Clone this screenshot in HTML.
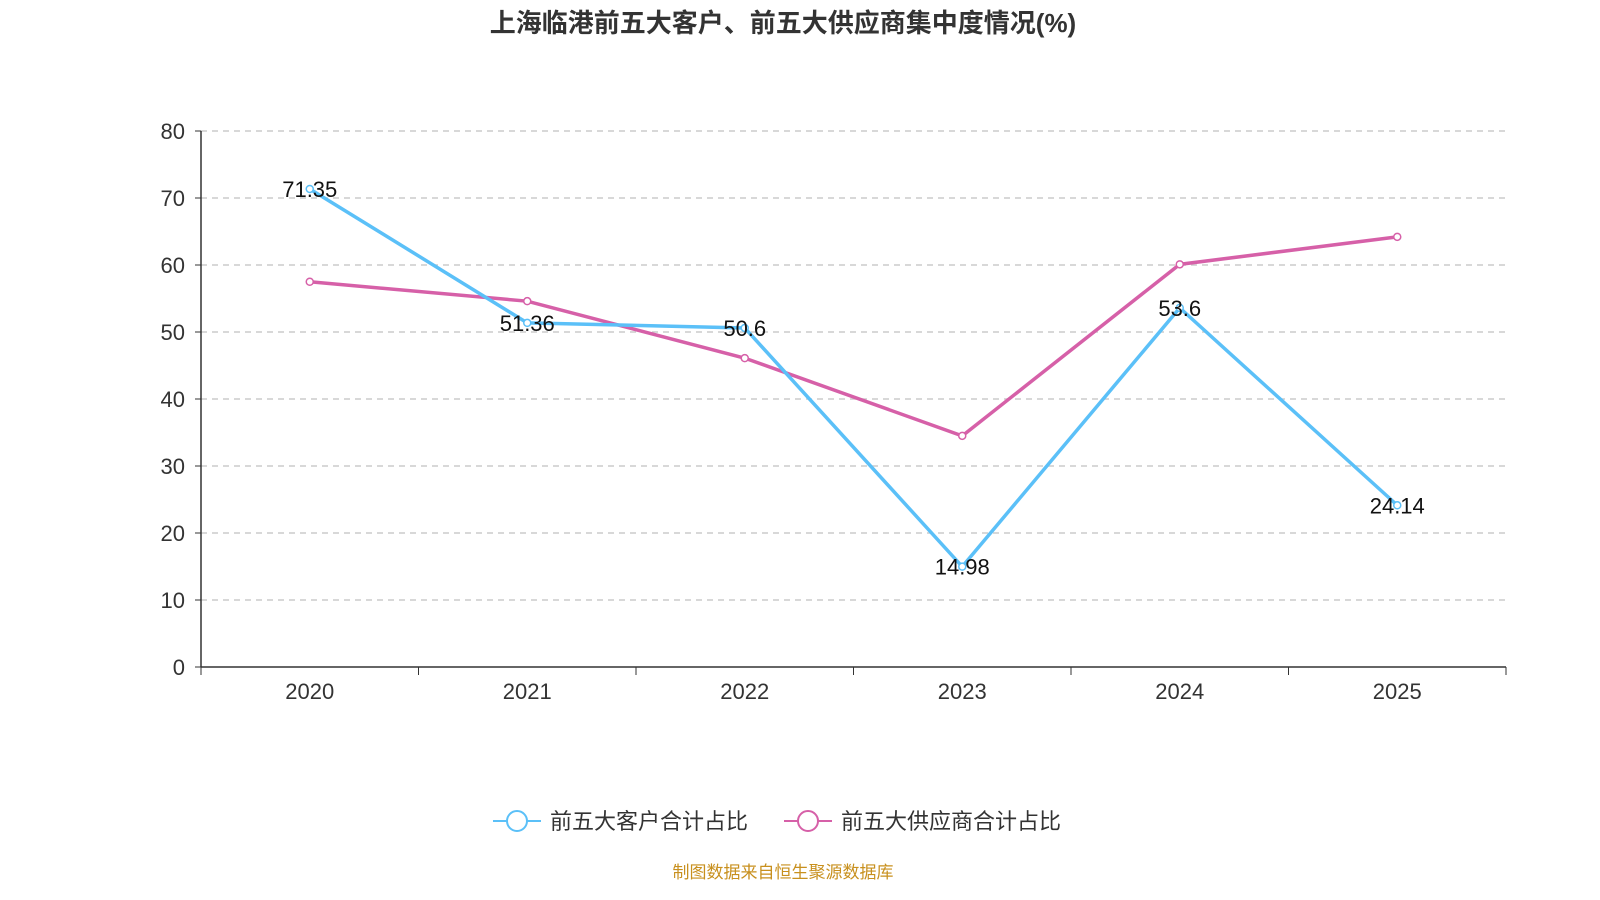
<!DOCTYPE html>
<html><head><meta charset="utf-8">
<style>
body{margin:0;background:#fff;}
svg{display:block;font-family:"Liberation Sans","Noto Sans CJK SC",sans-serif;}
</style></head>
<body>
<svg id="c" width="1600" height="900">
<text x="783" y="32" text-anchor="middle" font-size="26" font-weight="bold" fill="#333">上海临港前五大客户、前五大供应商集中度情况(%)</text>
<g id="grid"></g><g id="axes"></g><g id="series"></g>
<g>
<line x1="493" y1="821" x2="541" y2="821" stroke="#5bc0f8" stroke-width="2"/>
<circle cx="517" cy="821" r="10" fill="#fff" stroke="#5bc0f8" stroke-width="2"/>
<text x="550" y="829" font-size="22" fill="#333">前五大客户合计占比</text>
<line x1="784" y1="821" x2="832" y2="821" stroke="#d660a8" stroke-width="2"/>
<circle cx="808" cy="821" r="10" fill="#fff" stroke="#d660a8" stroke-width="2"/>
<text x="841" y="829" font-size="22" fill="#333">前五大供应商合计占比</text>
</g>
<text x="783" y="878" text-anchor="middle" font-size="17" fill="#c8901e">制图数据来自恒生聚源数据库</text>
</svg>
<script>
const categories=["2020","2021","2022","2023","2024","2025"];
const customers=[71.35,51.36,50.6,14.98,53.6,24.14];
const suppliers=[57.5,54.6,46.1,34.5,60.1,64.2];
const yTicks=[0,10,20,30,40,50,60,70,80];
const NS="http://www.w3.org/2000/svg";
const L=201,R=1506,T=131,B=667;
const y=v=>B-(v/80)*(B-T);
const bw=(R-L)/categories.length;
const x=i=>L+bw*(i+0.5);
function mk(p,t,a){const e=document.createElementNS(NS,t);for(const k in a)e.setAttribute(k,a[k]);p.appendChild(e);return e;}
const grid=document.getElementById('grid'),axes=document.getElementById('axes'),ser=document.getElementById('series');
yTicks.forEach(v=>{
 if(v>0){const g=mk(grid,'line',{x1:L,x2:R,y1:y(v),y2:y(v),stroke:'#ccc','stroke-dasharray':'6,5','stroke-width':1.5});
 
 }
 mk(axes,'line',{x1:L-6,x2:L,y1:y(v),y2:y(v),stroke:'#333'});
 const t=mk(axes,'text',{x:L-16,y:y(v)+8,'text-anchor':'end','font-size':22,fill:'#333'});t.textContent=v;
 
 
});
mk(axes,'line',{x1:L,x2:L,y1:T,y2:B,stroke:'#333','stroke-width':1.5});
mk(axes,'line',{x1:L,x2:R,y1:B,y2:B,stroke:'#333','stroke-width':1.5});
for(let i=0;i<=categories.length;i++)mk(axes,'line',{x1:L+bw*i,x2:L+bw*i,y1:B,y2:B+8,stroke:'#333'});
categories.forEach((c,i)=>{const t=mk(axes,'text',{x:x(i),y:B+32,'text-anchor':'middle','font-size':22,fill:'#333'});t.textContent=c;
 
 });
function series(vals,color,name,labels){
 const p=mk(ser,'polyline',{points:vals.map((v,i)=>x(i)+','+y(v)).join(' '),fill:'none',stroke:color,'stroke-width':3.5});
 
 
 vals.forEach((v,i)=>{const c=mk(ser,'circle',{cx:x(i),cy:y(v),r:3.5,fill:'#fff',stroke:color,'stroke-width':1.5});
  
  
  if(labels){const t=mk(ser,'text',{x:x(i),y:y(v)+8,'text-anchor':'middle','font-size':22,fill:'#111'});t.textContent=v;
  
  }});
}
series(suppliers,'#d660a8','suppliers',false);
series(customers,'#5bc0f8','customers',true);
</script>
</body></html>
